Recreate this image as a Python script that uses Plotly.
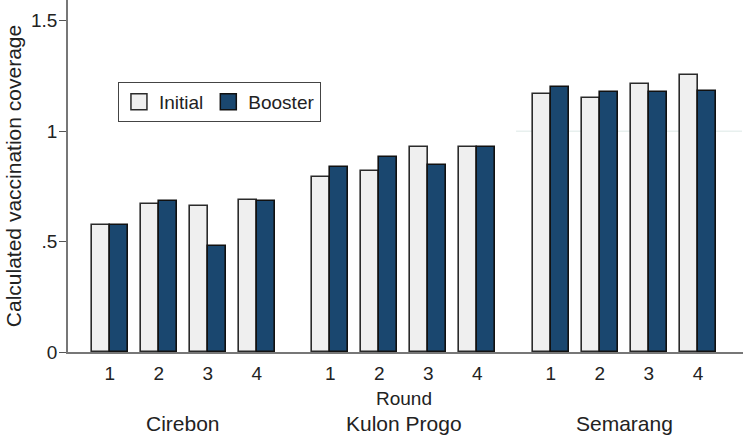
import plotly.graph_objects as go

groups = ["Cirebon", "Kulon Progo", "Semarang"]
rounds = ["1", "2", "3", "4"]
initial = [0.573, 0.671, 0.663, 0.690,
           0.792, 0.819, 0.928, 0.928,
           1.170, 1.152, 1.213, 1.253]
booster = [0.573, 0.686, 0.480, 0.683,
           0.838, 0.882, 0.847, 0.928,
           1.202, 1.178, 1.178, 1.182]
y_tickvals = [0, 0.5, 1, 1.5]
y_ticktext = ["0", ".5", "1", "1.5"]

# category positions: 4 rounds per group, half-slot gap between groups
gap = 1.5
pos = []
for g in range(len(groups)):
    for r in range(len(rounds)):
        pos.append(g * (len(rounds) - 1 + gap) + r)
ticktext = rounds * len(groups)
group_centers = [g * (len(rounds) - 1 + gap) + (len(rounds) - 1) / 2 for g in range(len(groups))]

init_fill, init_line = "#efefef", "#2a2a2a"
boost_fill, boost_line = "#1a476f", "#111111"

bw = 0.367
fig = go.Figure()
fig.add_trace(go.Bar(
    x=[p - bw / 2 for p in pos], y=initial, width=bw, name="Initial", showlegend=False,
    marker=dict(color=init_fill, line=dict(color=init_line, width=1.6)),
))
fig.add_trace(go.Bar(
    x=[p + bw / 2 for p in pos], y=booster, width=bw, name="Booster", showlegend=False,
    marker=dict(color=boost_fill, line=dict(color=boost_line, width=1.6)),
))
# legend entries (square swatches)
fig.add_trace(go.Scatter(x=[None], y=[None], mode="markers", name="Initial",
                         marker=dict(symbol="square", size=16, color=init_fill,
                                     line=dict(color=init_line, width=1.5))))
fig.add_trace(go.Scatter(x=[None], y=[None], mode="markers", name="Booster",
                         marker=dict(symbol="square", size=16, color=boost_fill,
                                     line=dict(color=boost_line, width=1.5))))

fig.add_shape(type="line", xref="x", yref="y", x0=8.29, x1=12.9, y0=1, y1=1,
              line=dict(color="#dce8e6", width=1), layer="below")

for name, c in zip(groups, group_centers):
    fig.add_annotation(x=c, y=-0.2045, xref="x", yref="paper", text=name,
                       showarrow=False, font=dict(size=21, color="#222"),
                       xanchor="center", yanchor="middle")
fig.add_annotation(x=group_centers[1], y=-0.1307, xref="x", yref="paper", text="Round",
                   showarrow=False, font=dict(size=19, color="#222"),
                   xanchor="center", yanchor="middle")

fig.update_layout(
    width=743, height=438,
    margin=dict(l=68, r=0, t=0, b=86),
    paper_bgcolor="white", plot_bgcolor="white",
    font=dict(family="Liberation Sans, Arial, sans-serif", color="#222", size=19),
    barmode="overlay",
    bargap=0,
    showlegend=True,
    legend=dict(orientation="h", x=0.074, y=0.767, xanchor="left", yanchor="top",
                bordercolor="#444", borderwidth=1, bgcolor="white",
                font=dict(size=19), itemwidth=30, itemsizing="trace"),
    xaxis=dict(range=[-0.851, 12.92], tickvals=pos, ticktext=ticktext,
               showgrid=False, zeroline=False, showline=True, linecolor="#777",
               linewidth=1.5, ticks="", ticklabelstandoff=3, automargin=False,
               tickfont=dict(size=19)),
    yaxis=dict(range=[0, 1.594], tickvals=y_tickvals, ticktext=y_ticktext,
               showgrid=False, zeroline=False, showline=True, linecolor="#777",
               linewidth=1.5, ticks="outside", ticklen=7, tickcolor="#555",
               ticklabelstandoff=-2, automargin=False,
               tickfont=dict(size=19),
               title=dict(text="Calculated vaccination coverage", font=dict(size=21), standoff=4)),
)

fig.write_html("out.html", config={"displayModeBar": False},
               post_script="document.body.style.margin='0';document.body.style.overflow='hidden';")
